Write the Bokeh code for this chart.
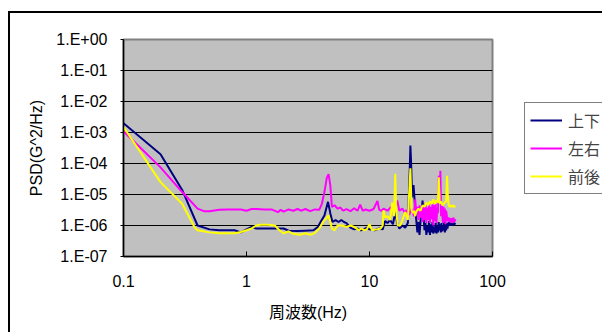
from bokeh.plotting import figure
from bokeh.models import FixedTicker, Legend, LegendItem
from bokeh.embed import file_html
from bokeh.resources import INLINE

# ---------------- data ----------------
freq_ud = [0.1, 0.2, 0.3, 0.4, 0.5, 0.6, 0.7, 0.8, 0.9, 1.0, 1.1, 1.2, 1.5, 2.0, 2.2, 2.6, 3.0, 3.5, 3.8,
           4.0, 4.3, 4.6, 4.8, 5.0, 5.3, 5.6, 5.9, 6.2, 6.5, 7.0, 7.5, 8.0, 8.5, 9.0, 9.5, 10.0, 11.0, 12.0,
           12.8, 13.4, 14.0, 14.7, 15.5, 16.2, 16.8, 17.5, 18.5, 19.5, 20.5, 21.2, 21.5, 21.8, 22.2, 22.8,
           23.3, 24.0, 24.5, 25.0, 25.5, 26.0, 26.5, 27.0, 27.5, 28.0, 28.5, 29.0, 29.5, 30.0, 30.5, 31.0,
           31.5, 32.0, 32.5, 33.0, 33.5, 34.0, 34.5, 35.0, 35.5, 36.0, 36.5, 37.0, 37.5, 38.0, 38.5, 39.0,
           39.5, 40.0, 40.5, 41.0, 41.5, 42.0, 42.5, 43.0, 44.0, 45.0, 46.0, 47.0, 48.0, 49.0, 50.0]
psd_ud = [2.0e-3, 2.0e-4, 1.4e-5, 1.0e-6, 7.5e-7, 7.0e-7, 7.0e-7, 7.0e-7, 6.0e-7, 7.5e-7, 9.0e-7, 8.0e-7,
          8.0e-7, 8.0e-7, 6.8e-7, 6.6e-7, 6.8e-7, 7.0e-7, 9.0e-7, 1.3e-6, 2.1e-6, 5.8e-6, 2.5e-6, 1.3e-6,
          1.5e-6, 1.3e-6, 1.5e-6, 1.3e-6, 1.2e-6, 8.5e-7, 7.5e-7, 8.0e-7, 7.0e-7, 7.5e-7, 8.5e-7, 7.5e-7,
          7.0e-7, 8.0e-7, 7.5e-7, 1.4e-6, 1.2e-6, 1.5e-6, 1.1e-6, 2.7e-6, 1.2e-6, 8.0e-7, 1.0e-6, 8.5e-7,
          1.2e-6, 5.0e-5, 3.8e-4, 1.0e-4, 8.0e-6, 2.0e-5, 6.0e-6, 1.5e-6, 6.0e-7, 1.3e-6, 5.0e-7, 1.4e-6,
          2.5e-6, 6.4e-6, 2.0e-6, 7.0e-7, 1.2e-6, 5.0e-7, 1.0e-6, 6.0e-7, 1.4e-6, 5.0e-7, 1.1e-6, 6.0e-7,
          1.3e-6, 5.5e-7, 9.0e-7, 6.0e-7, 1.2e-6, 5.5e-7, 1.0e-6, 6.0e-7, 1.3e-6, 7.0e-7, 1.1e-6, 6.0e-7,
          1.2e-6, 6.5e-7, 1.0e-6, 7.0e-7, 1.3e-6, 6.0e-7, 1.1e-6, 7.0e-7, 1.2e-6, 8.0e-7, 1.3e-6, 1.0e-6,
          1.2e-6, 1.0e-6, 1.2e-6, 1.1e-6, 1.2e-6]

freq_lr = [0.1, 0.2, 0.3, 0.4, 0.45, 0.5, 0.6, 0.7, 0.8, 0.9, 1.0, 1.1, 1.2, 1.4, 1.6, 1.8, 1.9, 2.0, 2.2,
           2.4, 2.6, 2.8, 3.0, 3.3, 3.6, 3.9, 4.1, 4.3, 4.5, 4.65, 4.8, 4.95, 5.2, 5.5, 5.8, 6.1, 6.5, 7.0,
           7.5, 8.0, 8.4, 8.8, 9.3, 10.0, 10.8, 11.6, 12.0, 12.5, 13.0, 14.0, 15.0, 16.0, 16.8, 17.5, 18.5,
           19.5, 20.0, 21.0, 22.0, 23.0, 23.5, 24.0, 24.5, 25.0, 25.5, 26.0, 26.5, 27.0, 27.5, 28.0, 28.5,
           29.0, 29.5, 30.0, 30.5, 31.0, 31.5, 32.0, 32.5, 33.0, 33.5, 34.0, 34.5, 35.0, 35.5, 36.0, 36.6,
           37.0, 37.7, 38.2, 38.8, 39.5, 40.0, 40.5, 41.0, 41.5, 42.0, 43.0, 44.0, 45.0, 46.0, 47.0, 48.0,
           49.0, 50.0]
psd_lr = [1.1e-3, 7.5e-5, 1.2e-5, 3.5e-6, 2.9e-6, 2.9e-6, 3.2e-6, 3.3e-6, 3.3e-6, 3.3e-6, 3.0e-6, 3.4e-6,
          3.4e-6, 3.3e-6, 3.3e-6, 2.7e-6, 3.2e-6, 2.8e-6, 3.3e-6, 3.0e-6, 3.4e-6, 3.0e-6, 3.4e-6, 2.9e-6,
          3.3e-6, 3.2e-6, 5.0e-6, 1.2e-5, 3.5e-5, 4.5e-5, 2.0e-5, 4.0e-6, 4.5e-6, 3.5e-6, 3.8e-6, 3.0e-6,
          3.4e-6, 2.9e-6, 3.6e-6, 3.0e-6, 4.7e-6, 3.0e-6, 3.3e-6, 3.0e-6, 3.4e-6, 6.2e-6, 3.2e-6, 3.0e-6,
          3.5e-6, 3.0e-6, 4.0e-6, 3.0e-6, 6.4e-6, 3.0e-6, 3.5e-6, 2.5e-6, 3.2e-6, 2.2e-6, 3.5e-6, 2.0e-6,
          7.0e-6, 2.5e-6, 4.0e-6, 1.5e-6, 4.5e-6, 1.8e-6, 3.5e-6, 1.3e-6, 4.5e-6, 1.5e-6, 5.0e-6, 1.2e-6,
          3.8e-6, 1.5e-6, 5.0e-6, 1.2e-6, 4.0e-6, 1.6e-6, 5.0e-6, 1.0e-6, 4.5e-6, 1.4e-6, 5.0e-6, 1.2e-6,
          3.5e-6, 2.5e-6, 4.0e-5, 5.0e-6, 5.8e-5, 2.0e-6, 4.5e-6, 1.2e-6, 4.0e-6, 1.3e-6, 3.5e-6, 1.1e-6,
          3.0e-6, 1.4e-6, 1.8e-6, 1.3e-6, 1.7e-6, 1.2e-6, 1.8e-6, 1.3e-6, 1.6e-6]

freq_fb = [0.1, 0.2, 0.3, 0.38, 0.4, 0.5, 0.6, 0.7, 0.8, 0.9, 1.0, 1.1, 1.2, 1.3, 1.5, 1.7, 1.85, 2.0, 2.2,
           2.4, 2.7, 3.0, 3.3, 3.6, 3.9, 4.2, 4.65, 4.95, 5.2, 5.5, 6.0, 6.5, 7.0, 7.5, 8.2, 8.6, 9.0, 9.5,
           10.0, 10.5, 11.5, 12.3, 12.8, 13.0, 13.4, 14.0, 14.7, 15.3, 15.8, 16.2, 16.5, 17.0, 17.8, 18.5,
           19.5, 20.5, 21.5, 22.0, 22.5, 23.0, 23.5, 24.0, 25.0, 26.0, 27.0, 28.0, 29.0, 30.0, 31.0, 32.0,
           33.0, 34.0, 35.0, 36.0, 36.6, 37.2, 38.0, 39.0, 40.0, 41.0, 42.0, 42.7, 43.3, 44.0, 45.0, 46.0,
           47.0, 48.0, 49.0, 50.0]
psd_fb = [1.5e-3, 2.5e-5, 5.0e-6, 8.5e-7, 7.0e-7, 6.0e-7, 5.6e-7, 5.6e-7, 5.6e-7, 6.2e-7, 7.0e-7, 8.0e-7,
          1.0e-6, 1.05e-6, 1.05e-6, 1.0e-6, 7.0e-7, 5.6e-7, 6.5e-7, 5.4e-7, 5.0e-7, 5.6e-7, 5.0e-7, 5.8e-7,
          8.0e-7, 1.3e-6, 2.1e-6, 8.0e-7, 7.0e-7, 1.0e-6, 1.0e-6, 9.0e-7, 1.0e-6, 9.0e-7, 7.0e-7, 8.0e-7,
          7.0e-7, 7.5e-7, 1.1e-6, 7.0e-7, 7.5e-7, 8.0e-7, 1.0e-6, 3.1e-6, 1.8e-6, 2.0e-6, 1.5e-6, 5.5e-6,
          2.0e-6, 4.7e-5, 2.7e-6, 1.0e-6, 1.0e-6, 1.5e-6, 2.7e-6, 1.5e-6, 7.0e-5, 3.1e-6, 2.5e-6, 3.0e-6,
          2.0e-6, 2.8e-6, 3.5e-6, 3.0e-6, 4.5e-6, 4.0e-6, 5.5e-6, 4.5e-6, 6.0e-6, 5.0e-6, 7.0e-6, 5.0e-6,
          6.5e-6, 5.5e-6, 3.6e-5, 5.0e-6, 6.0e-6, 4.5e-6, 5.0e-6, 5.5e-6, 6.0e-6, 4.0e-5, 1.0e-5, 4.5e-6,
          4.0e-6, 4.5e-6, 4.0e-6, 4.5e-6, 4.0e-6, 4.2e-6]

series_names = ["上下", "左右", "前後"]
series_colors = ["#000080", "#FF00FF", "#FFFF00"]

x_tick_values = [0.1, 1, 10, 100]
x_tick_labels = ["0.1", "1", "10", "100"]
y_tick_values = [1e-7, 1e-6, 1e-5, 1e-4, 1e-3, 1e-2, 1e-1, 1.0]
y_tick_labels = ["1.E-07", "1.E-06", "1.E-05", "1.E-04", "1.E-03", "1.E-02", "1.E-01", "1.E+00"]

x_title = "周波数(Hz)"
y_title = "PSD(G^2/Hz)"

FONT = "Liberation Sans, Noto Sans CJK JP"

# ---------------- figure ----------------
p = figure(frame_width=369, frame_height=217, x_axis_type="log", y_axis_type="log",
           x_range=(0.1, 100), y_range=(1e-7, 1.0),
           output_backend="svg", toolbar_location=None,
           min_border_left=113, min_border_right=0, min_border_top=26, min_border_bottom=76)
p.styles = {"border-left": "2px solid #000000", "border-top": "2px solid #000000",
            "margin-top": "11px", "margin-left": "8px",
            "box-sizing": "content-box", "max-width": "592px", "overflow": "hidden"}

p.background_fill_color = "#C0C0C0"
p.border_fill_color = "#FFFFFF"
p.outline_line_color = "#808080"
p.outline_line_width = 2

renderers = []
for fx, fy, name, col in zip([freq_ud, freq_lr, freq_fb], [psd_ud, psd_lr, psd_fb], series_names, series_colors):
    r = p.line(fx, fy, line_color=col, line_width=2)
    renderers.append((name, r))

# axes
p.xaxis.ticker = FixedTicker(ticks=x_tick_values)
p.yaxis.ticker = FixedTicker(ticks=y_tick_values)
p.xaxis.major_label_overrides = {v: s for v, s in zip(x_tick_values, x_tick_labels)}
p.yaxis.major_label_overrides = {v: s for v, s in zip(y_tick_values, y_tick_labels)}
for ax in (p.xaxis[0], p.yaxis[0]):
    ax.axis_line_color = "#000000"
    ax.axis_line_width = 1.5
    ax.major_tick_line_color = "#000000"
    ax.minor_tick_line_color = None
    ax.major_label_text_font = FONT
    ax.major_label_text_font_size = "16px"
    ax.major_label_text_color = "#000000"
    ax.axis_label_text_font = FONT
    ax.axis_label_text_font_size = "16px"
    ax.axis_label_text_font_style = "normal"
    ax.axis_label_text_color = "#000000"

p.xaxis.major_tick_in = 5
p.xaxis.major_tick_out = 0
p.xaxis.major_label_standoff = 18
p.xaxis.axis_label = x_title
p.xaxis.axis_label_standoff = 14

p.yaxis.major_tick_in = 0
p.yaxis.major_tick_out = 3
p.yaxis.major_label_standoff = 13
p.yaxis.axis_label = y_title
p.yaxis.axis_label_standoff = 8

p.xgrid.grid_line_color = None
p.ygrid.ticker = FixedTicker(ticks=y_tick_values)
p.ygrid.grid_line_color = "#000000"
p.ygrid.grid_line_width = 1

legend = Legend(items=[LegendItem(label=n, renderers=[r]) for n, r in renderers],
                location="left", orientation="vertical",
                border_line_color="#000000", border_line_width=1,
                background_fill_color="#FFFFFF", background_fill_alpha=1.0,
                label_text_font=FONT, label_text_font_size="16px",
                glyph_width=32, glyph_height=20, label_height=20, label_standoff=6,
                spacing=4, padding=5, margin=32)
p.add_layout(legend, "right")

open("out.html", "w").write(file_html(p, INLINE))
